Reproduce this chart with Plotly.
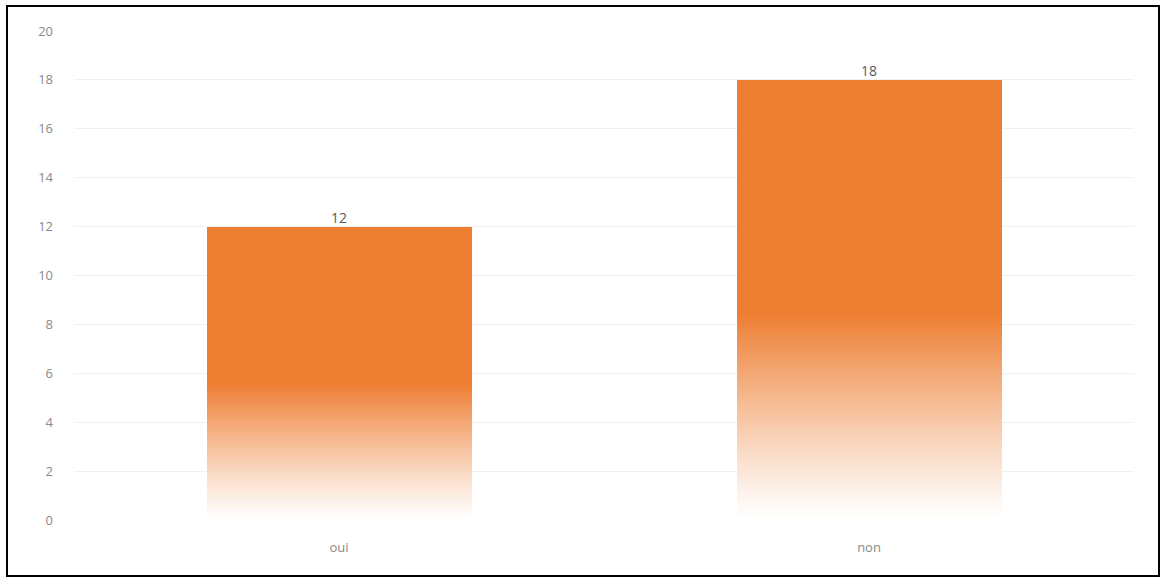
import plotly.graph_objects as go

categories = ["oui", "non"]
values = [12, 18]
y_ticks = [0, 2, 4, 6, 8, 10, 12, 14, 16, 18, 20]

ORANGE = (237, 125, 49)
FADE_FRACTION = 0.47   # share of each bar (from bottom) that fades to white
N_STEPS = 80

fig = go.Figure()

def mix(t):
    r = round(255 + (ORANGE[0] - 255) * t)
    g = round(255 + (ORANGE[1] - 255) * t)
    b = round(255 + (ORANGE[2] - 255) * t)
    return f"rgb({r},{g},{b})"

# gradient part (stacked thin slices of each bar)
for i in range(N_STEPS):
    t = ((i + 0.5) / N_STEPS) ** 1.15
    fig.add_trace(go.Bar(
        x=categories,
        y=[v * FADE_FRACTION / N_STEPS for v in values],
        marker=dict(color=mix(t), line=dict(width=0)),
        hoverinfo="skip", showlegend=False,
    ))
# solid part
fig.add_trace(go.Bar(
    x=categories,
    y=[v * (1 - FADE_FRACTION) for v in values],
    marker=dict(color=mix(1.0), line=dict(width=0)),
    showlegend=False,
))
# data labels
fig.add_trace(go.Scatter(
    x=categories, y=values, mode="text",
    text=[str(v) for v in values], textposition="top center",
    textfont=dict(family="Open Sans, DejaVu Sans, sans-serif", size=14, color="#595959"),
    showlegend=False, hoverinfo="skip",
))

fig.update_layout(
    width=1166, height=578,
    margin=dict(l=74, r=32, t=31, b=58),
    barmode="stack", bargap=0.5,
    plot_bgcolor="white", paper_bgcolor="white",
    font=dict(family="Open Sans, DejaVu Sans, sans-serif", size=13, color="#8a8a8a"),
    xaxis=dict(showgrid=False, showline=False, zeroline=False,
               ticks="", ticklabelstandoff=18,
               tickfont=dict(size=13, color="#8a8a8a")),
    yaxis=dict(range=[0, 20], tickvals=y_ticks, showgrid=True,
               gridcolor="#f0f0f0", gridwidth=1, zeroline=False,
               showline=False, ticks="", ticklabelstandoff=20,
               tickfont=dict(size=13, color="#8a8a8a")),
    shapes=[dict(type="rect", xref="paper", yref="paper",
                 x0=(7 - 74) / 1060, x1=(1159 - 74) / 1060,
                 y0=(520 - 576) / 489, y1=(520 - 6) / 489,
                 line=dict(color="black", width=2), fillcolor="rgba(0,0,0,0)",
                 layer="above")],
)

fig.write_html("out.html")
